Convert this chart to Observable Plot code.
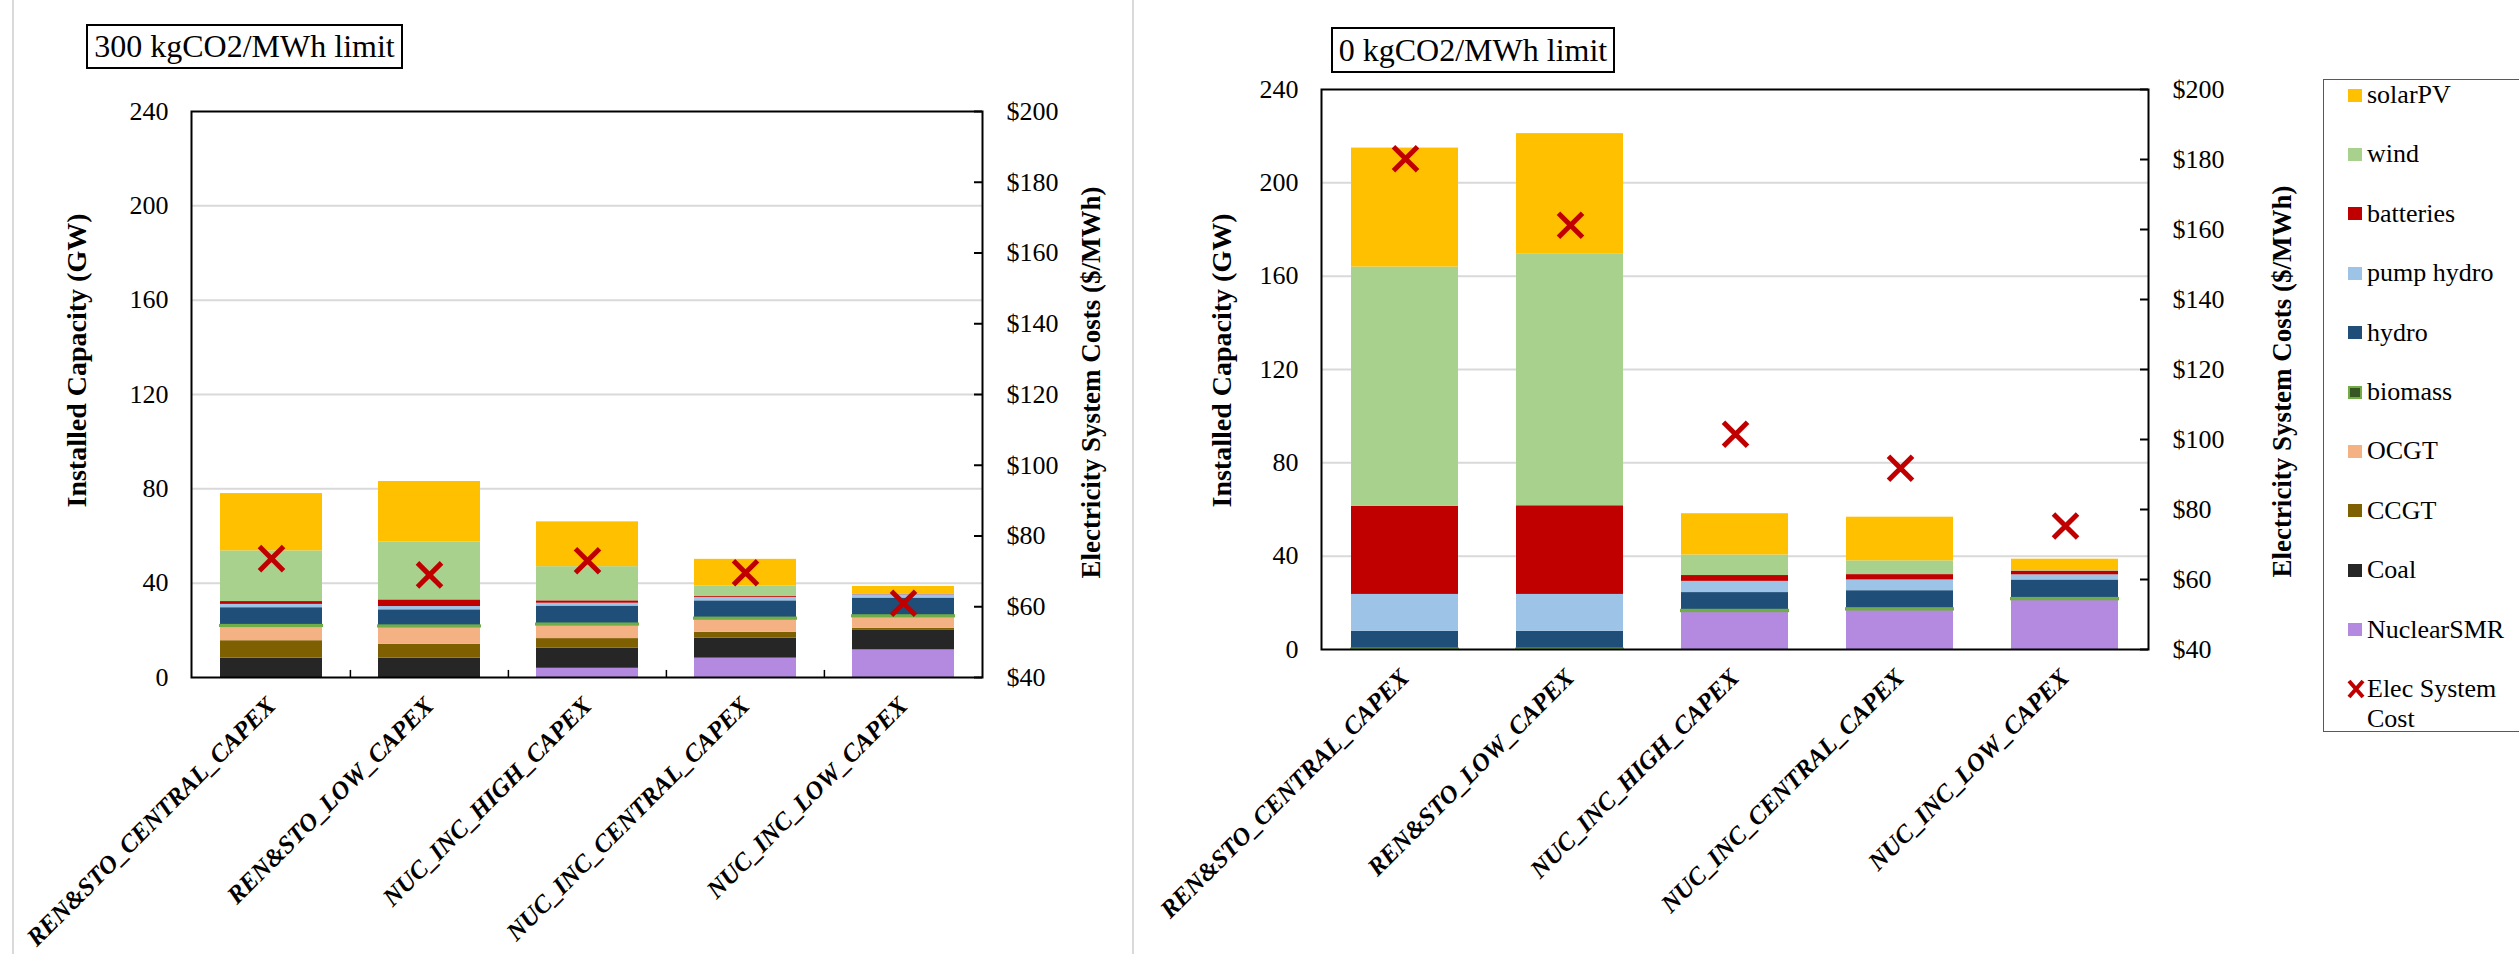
<!DOCTYPE html>
<html>
<head>
<meta charset="utf-8">
<script src="https://cdn.jsdelivr.net/npm/d3@7"></script>
<script src="https://cdn.jsdelivr.net/npm/@observablehq/plot@0.6"></script>
<style>
  html, body { margin: 0; padding: 0; background: #fff; }
  body { width: 2519px; height: 954px; position: relative; overflow: hidden;
         font-family: "Liberation Serif", "Times New Roman", serif; color: #000; }
  .abs { position: absolute; }
  .vline { position: absolute; top: 0; width: 2px; height: 954px; background: #d9d9d9; }
  .titlebox { position: absolute; box-sizing: border-box; border: 2px solid #000;
              display: flex; align-items: center; justify-content: center;
              font-size: 32px; white-space: nowrap; background: #fff; }
  .panel svg { position: absolute; left: 0; top: 0; }
  .panel text.cat { font-style: italic !important; font-weight: bold !important; }
  #legend { position: absolute; left: 2323px; top: 79px; width: 320px; height: 653px;
            box-sizing: border-box; border: 1.5px solid #595959; background: #fff; }
  .item { position: absolute; left: 0; height: 30px; display: flex; align-items: center; font-size: 26px; }
  .sw { width: 14px; height: 13px; margin-left: 24px; margin-right: 5px; box-sizing: border-box; flex: none; }
</style>
</head>
<body>
<div class="vline" style="left:12px"></div>
<div class="vline" style="left:1132px"></div>
<div class="titlebox" style="left:86px;top:24px;width:317px;height:45px">300 kgCO2/MWh limit</div>
<div class="titlebox" style="left:1331px;top:27px;width:284px;height:46px">0 kgCO2/MWh limit</div>
<div id="left" class="panel abs" style="left:0;top:0;width:1133px;height:954px"></div>
<div id="right" class="panel abs" style="left:1140px;top:0;width:1183px;height:954px"></div>
<div id="legend"></div>
<script>
// Scenarios on the x axis
const scenarios = ["REN&STO_CENTRAL_CAPEX", "REN&STO_LOW_CAPEX", "NUC_INC_HIGH_CAPEX", "NUC_INC_CENTRAL_CAPEX", "NUC_INC_LOW_CAPEX"];

// Technologies, stacked from the bottom up, and their fills
const techs = ["NuclearSMR", "Coal", "CCGT", "OCGT", "biomass", "hydro", "pump hydro", "batteries", "wind", "solarPV"];
const techColors = ["#b48ae1", "#262626", "#7f6000", "#f4b183", "#375623", "#1f4e79", "#9dc3e6", "#c00000", "#a9d18e", "#ffc000"];

// 300 kgCO2/MWh limit: installed capacity (GW) per scenario
const nuclear300 = [0, 0, 3.9, 8.2, 11.7];
const coal300 = [8.2, 8.2, 8.5, 8.5, 8.5];
const ccgt300 = [7.4, 5.9, 4.1, 2.5, 0.7];
const ocgt300 = [6.0, 7.3, 5.7, 5.5, 4.8];
const biomass300 = [0.5, 0.5, 0.5, 0.5, 0.5];
const hydro300 = [7.5, 6.8, 7.6, 7.3, 7.5];
const pumpHydro300 = [1.4, 1.4, 1.2, 1.4, 1.4];
const batteries300 = [1.2, 2.8, 1.0, 0.4, 0.2];
const wind300 = [21.5, 24.5, 14.5, 4.5, 0.3];
const solar300 = [24.3, 25.7, 19.0, 11.3, 3.0];
const cost300 = [73.6, 69.0, 73.0, 69.6, 61.0]; // $/MWh

// 0 kgCO2/MWh limit: installed capacity (GW) per scenario
const nuclear0 = [0, 0, 16.2, 16.9, 21.3];
const coal0 = [0, 0, 0, 0, 0];
const ccgt0 = [0, 0, 0, 0, 0];
const ocgt0 = [0, 0, 0, 0, 0];
const biomass0 = [0.2, 0.2, 0.6, 0.6, 0.6];
const hydro0 = [7.6, 7.6, 7.6, 7.7, 7.9];
const pumpHydro0 = [15.8, 15.8, 4.8, 4.6, 2.2];
const batteries0 = [37.8, 38.0, 2.5, 2.3, 1.6];
const wind0 = [102.5, 108.0, 8.8, 5.9, 0.2];
const solar0 = [51.0, 51.5, 17.7, 18.7, 4.9];
const cost0 = [180.2, 161.2, 101.5, 91.8, 75.3]; // $/MWh

// Axis ticks
const capTicks = [0, 40, 80, 120, 160, 200, 240];
const gridTicks = [40, 80, 120, 160, 200];
const costTicks = [40, 60, 80, 100, 120, 140, 160, 180, 200];

const FONT = "'Liberation Serif', 'Times New Roman', serif";

function longTable(series) {
  const rows = [];
  techs.forEach((t, j) => scenarios.forEach((s, i) => rows.push({scenario: s, tech: t, value: series[j][i]})));
  return rows;
}

function drawPanel(el, cfg) {
  const {width, height, margin, series, costs, padInner, titleOffsets} = cfg;
  const rows = longTable(series);
  const costRows = scenarios.map((s, i) => ({scenario: s, cost: costs[i]}));
  const plotW = width - margin.left - margin.right;
  const step = plotW / scenarios.length;
  const xScale = {domain: scenarios, paddingInner: padInner, paddingOuter: padInner / 2, align: 0.5};
  const common = {
    width, height,
    marginLeft: margin.left, marginRight: margin.right, marginTop: margin.top, marginBottom: margin.bottom,
    style: {fontFamily: FONT, fontSize: "26px", color: "#000", background: "transparent", overflow: "visible", maxWidth: "none"}
  };

  // Capacity layer: grid, stacked bars, frame, left axis, category labels
  const base = Plot.plot({
    ...common,
    x: {...xScale, axis: null},
    y: {domain: [0, 240], axis: null},
    color: {domain: techs, range: techColors},
    marks: [
      Plot.gridY(gridTicks, {stroke: "#d9d9d9", strokeOpacity: 1, strokeWidth: 2}),
      Plot.barY(rows, Plot.stackY({x: "scenario", y: "value", fill: "tech", order: techs})),
      Plot.barY(rows, Plot.stackY({
        x: "scenario", y: "value", z: "tech", order: techs, fill: "none",
        stroke: "#70ad47", strokeWidth: 2,
        strokeOpacity: d => (d.tech === "biomass" && d.value > 0 ? 1 : 0)
      })),
      Plot.frame({stroke: "#000", strokeWidth: 2}),
      cfg.catTicks ? Plot.ruleX(scenarios.slice(1), {x: d => d, dx: -step / 2, y1: 0, y2: 3, stroke: "#000", strokeWidth: 1.5}) : null,
      Plot.axisY(capTicks, {anchor: "left", tickSize: 0, tickPadding: 23, label: null}),
      Plot.axisX({anchor: "bottom", tickSize: 0, tickPadding: cfg.xPad, tickRotate: -45, label: null,
                  fontWeight: "bold", fontStyle: "italic", fontSize: 25}),
      Plot.text(["Installed Capacity (GW)"], {text: d => d, frameAnchor: "left", textAnchor: "middle", lineAnchor: "middle",
                  dx: -titleOffsets.leftX, dy: titleOffsets.leftDy, rotate: -90, fontWeight: "bold", fontSize: 28})
    ]
  });

  // Cost layer on its own scale: right axis and the cost markers
  const overlay = Plot.plot({
    ...common,
    x: {...xScale, axis: null},
    y: {domain: [40, 200], axis: null},
    marks: [
      Plot.ruleY(costTicks, {y: d => d, insetLeft: plotW - 8, stroke: "#000", strokeWidth: 2}),
      Plot.axisY(costTicks, {anchor: "right", tickSize: 0, tickPadding: 24, tickFormat: d => "$" + d, label: null}),
      Plot.text(["Electricity System Costs ($/MWh)"], {text: d => d, frameAnchor: "right", textAnchor: "middle", lineAnchor: "middle",
                  dx: titleOffsets.rightX, dy: titleOffsets.rightDy, rotate: -90, fontWeight: "bold", fontSize: 27}),
      Plot.dot(costRows, {x: "scenario", y: "cost", symbol: "times", r: 11, stroke: "#c00000", strokeWidth: 5})
    ]
  });

  // Category labels in bold italic
  base.querySelectorAll("text").forEach(t => {
    if (scenarios.includes(t.textContent)) {
      t.classList.add("cat");
      t.setAttribute("font-style", "italic");
      t.setAttribute("font-weight", "bold");
    }
  });
  el.appendChild(base);
  el.appendChild(overlay);
}

drawPanel(document.getElementById("left"), {
  width: 1133, height: 954,
  margin: {left: 191, right: 151, top: 111, bottom: 277},
  series: [nuclear300, coal300, ccgt300, ocgt300, biomass300, hydro300, pumpHydro300, batteries300, wind300, solar300],
  costs: cost300, padInner: 0.355, xPad: 24, catTicks: true,
  titleOffsets: {leftX: 114, leftDy: -34, rightX: 109, rightDy: -12}
});

drawPanel(document.getElementById("right"), {
  width: 1183, height: 954,
  margin: {left: 181, right: 175, top: 89, bottom: 305},
  series: [nuclear0, coal0, ccgt0, ocgt0, biomass0, hydro0, pumpHydro0, batteries0, wind0, solar0],
  costs: cost0, padInner: 0.353, xPad: 24, catTicks: false,
  titleOffsets: {leftX: 99, leftDy: -9, rightX: 134, rightDy: 12}
});

// Legend: technologies top to bottom, then the cost marker
const legend = d3.select("#legend");
const legendOrder = techs.slice().reverse();
legendOrder.forEach((t, i) => {
  const c = techColors[techs.indexOf(t)];
  const item = legend.append("div").attr("class", "item").style("top", (i * 59.4) + "px");
  const sw = item.append("div").attr("class", "sw").style("background", c);
  if (t === "biomass") sw.style("border", "2px solid #70ad47");
  item.append("span").text(t);
});
const costItem = legend.append("div").attr("class", "item")
  .style("top", (10 * 59.4) + "px").style("align-items", "flex-start");
costItem.append("svg").attr("width", 20).attr("height", 22)
  .style("margin-left", "22px").style("margin-right", "1px").style("margin-top", "4px").style("flex", "none")
  .call(s => {
    s.append("path").attr("d", "M3,3L17,19M3,19L17,3").attr("stroke", "#c00000").attr("stroke-width", 4).attr("fill", "none");
  });
costItem.append("span").style("width", "150px").style("line-height", "30px").text("Elec System Cost");
</script>
</body>
</html>
